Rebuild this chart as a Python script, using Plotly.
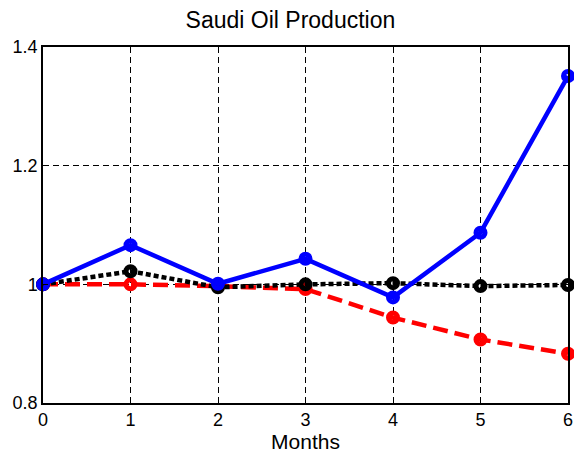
import plotly.graph_objects as go

months = [0, 1, 2, 3, 4, 5, 6]
blue_vals = [1.0, 1.066, 1.001, 1.043, 0.978, 1.087, 1.351]
red_vals = [1.0, 1.0, 0.997, 0.992, 0.944, 0.907, 0.883]
black_vals = [1.0, 1.022, 0.995, 1.0, 1.002, 0.997, 0.999]
x_ticks = [0, 1, 2, 3, 4, 5, 6]
y_ticks = [0.8, 1.0, 1.2, 1.4]
y_labels = ["0.8", "1", "1.2", "1.4"]

fig = go.Figure()
series = [
    (red_vals, "#ff0000", "15px,7px"),
    (black_vals, "#000000", "5px,3px"),
    (blue_vals, "#0000ff", "solid"),
]
for vals, col, dash in series:
    fig.add_trace(go.Scatter(
        x=months, y=vals, mode="lines+markers",
        line=dict(color=col, width=4.5, dash=dash),
        marker=dict(symbol="circle-open", size=9, color=col, line=dict(width=5, color=col)),
        showlegend=False, cliponaxis=False,
    ))

fig.update_layout(
    width=574, height=457,
    margin=dict(l=43, r=6, t=47, b=54, autoexpand=False),
    paper_bgcolor="white", plot_bgcolor="white",
    font=dict(family="Liberation Sans, Arial, sans-serif", size=18, color="black"),
    title=dict(text="Saudi Oil Production", x=0.506, xanchor="center", y=0.956, yanchor="middle",
               font=dict(size=23, color="black")),
)
fig.update_xaxes(
    range=[0, 6], tickvals=x_ticks, ticktext=[str(t) for t in x_ticks],
    showgrid=True, gridcolor="black", griddash="6px,4px", gridwidth=1,
    showline=True, linecolor="black", linewidth=1.5, mirror=True,
    ticks="inside", ticklen=5, tickcolor="black", zeroline=False,
    title=dict(text="Months", font=dict(size=21), standoff=3),
    tickfont=dict(size=18),
)
fig.update_yaxes(
    range=[0.8, 1.4], tickvals=y_ticks, ticktext=y_labels,
    showgrid=True, gridcolor="black", griddash="6px,4px", gridwidth=1,
    showline=True, linecolor="black", linewidth=1.5, mirror=True,
    ticks="inside", ticklen=5, tickcolor="black", zeroline=False,
    tickfont=dict(size=18),
)
fig.write_html("out.html", config={"displayModeBar": False},
               post_script="document.body.style.margin='0';")
